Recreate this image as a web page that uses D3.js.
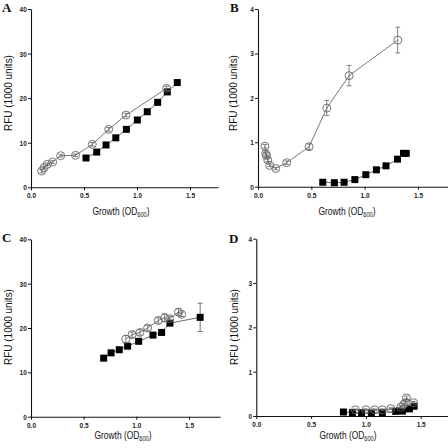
<!DOCTYPE html>
<html><head><meta charset="utf-8">
<script src="https://cdn.jsdelivr.net/npm/d3@7"></script>
<style>
html,body{margin:0;padding:0;background:#fff;}
svg text{font-family:Arial,"Liberation Sans",sans-serif;}
</style></head>
<body><svg id="c" width="448" height="448"></svg>
<script>
// ---------- data ----------
const xTicks = [0.0, 0.5, 1.0, 1.5];
const yTicksBig = [0, 10, 20, 30, 40];
const yTicksSmall = [0, 1, 2, 3, 4];

const A_circ_x = [0.10, 0.123, 0.154, 0.204, 0.28, 0.42, 0.578, 0.733, 0.896, 1.28];
const A_circ_y = [3.65, 4.4, 5.15, 5.67, 7.09, 7.17, 9.64, 13.0, 16.2, 22.2];
const A_circ_e = [0.4, 0.3, 0.3, 0.3, 0.3, 0.3, 0.4, 0.4, 0.4, 0.5];
const A_sq_x = [0.519, 0.62, 0.708, 0.80, 0.90, 1.003, 1.097, 1.195, 1.286, 1.38];
const A_sq_y = [6.57, 7.9, 9.5, 11.1, 13.0, 15.1, 16.95, 19.06, 21.4, 23.5];

const B_circ_x = [0.065, 0.072, 0.08, 0.092, 0.11, 0.166, 0.27, 0.479, 0.645, 0.854, 1.31];
const B_circ_y = [0.91, 0.74, 0.70, 0.60, 0.48, 0.41, 0.54, 0.90, 1.77, 2.50, 3.30];
const B_circ_e = [0.04, 0.04, 0.04, 0.04, 0.03, 0.03, 0.04, 0.06, 0.17, 0.23, 0.29];
const B_sq_x = [0.607, 0.716, 0.807, 0.908, 1.011, 1.11, 1.20, 1.308, 1.364, 1.39];
const B_sq_y = [0.10, 0.09, 0.10, 0.16, 0.27, 0.38, 0.47, 0.62, 0.75, 0.75];

const C_circ_x = [0.90, 0.96, 1.034, 1.107, 1.208, 1.268, 1.316, 1.40, 1.43];
const C_circ_y = [17.5, 18.5, 19.0, 20.0, 21.7, 22.3, 22.1, 23.6, 23.1];
const C_circ_e = [0.8, 0.6, 0.6, 0.6, 0.6, 0.9, 0.5, 0.7, 0.5];
const C_sq_x = [0.69, 0.76, 0.838, 0.917, 1.022, 1.158, 1.24, 1.319, 1.606];
const C_sq_y = [13.2, 14.4, 15.1, 15.9, 17.0, 18.4, 19.0, 21.1, 22.4];
const C_sq_e = [0, 0, 0, 0, 0, 0, 0.5, 0.5, 3.2];

const D_circ_x = [0.904, 1.0, 1.08, 1.15, 1.227, 1.318, 1.345, 1.36, 1.37, 1.434];
const D_circ_y = [0.14, 0.14, 0.14, 0.14, 0.165, 0.20, 0.26, 0.30, 0.41, 0.30];
const D_circ_e = [0.02, 0.02, 0.02, 0.02, 0.02, 0.03, 0.03, 0.04, 0.04, 0.03];
const D_sq_x = [0.795, 0.877, 0.96, 1.05, 1.15, 1.272, 1.333, 1.397, 1.44];
const D_sq_y = [0.09, 0.075, 0.075, 0.068, 0.075, 0.105, 0.11, 0.16, 0.22];

// ---------- layout ----------
const panels = [
  {label:"A", lx:2, ly:12, x0:31, x15:190, xEnd:218, yb:187.3, yt:9, yMax:40, yTicks:yTicksBig,
   ytx:9, yty:93, xtx:121, xty:215,
   circ:{x:A_circ_x,y:A_circ_y,e:A_circ_e}, sq:{x:A_sq_x,y:A_sq_y,e:null}},
  {label:"B", lx:230, ly:12, x0:258, x15:418, xEnd:448, yb:186.7, yt:9, yMax:4, yTicks:yTicksSmall,
   ytx:234, yty:93, xtx:347, xty:215,
   circ:{x:B_circ_x,y:B_circ_y,e:B_circ_e}, sq:{x:B_sq_x,y:B_sq_y,e:null}},
  {label:"C", lx:2, ly:242, x0:31, x15:189, xEnd:220, yb:416.7, yt:239.3, yMax:40, yTicks:yTicksBig,
   ytx:9, yty:327, xtx:123, xty:438.5,
   circ:{x:C_circ_x,y:C_circ_y,e:C_circ_e}, sq:{x:C_sq_x,y:C_sq_y,e:C_sq_e}},
  {label:"D", lx:229, ly:243, x0:256.3, x15:420.7, xEnd:448, yb:416, yt:238.7, yMax:4, yTicks:yTicksSmall,
   ytx:235, yty:327, xtx:348, xty:438.5,
   circ:{x:D_circ_x,y:D_circ_y,e:D_circ_e}, sq:{x:D_sq_x,y:D_sq_y,e:null}}
];

const svg = d3.select("#c");

panels.forEach(p => {
  const base = d3.scaleLinear().domain([0,1.5]).range([p.x0,p.x15]);
  const x = d3.scaleLinear().domain([0, base.invert(p.xEnd)]).range([p.x0,p.xEnd]);
  const y = d3.scaleLinear().domain([0,p.yMax]).range([p.yb,p.yt]);
  const g = svg.append("g");

  // axes
  const xa = g.append("g").attr("transform",`translate(0,${p.yb})`)
    .call(d3.axisBottom(x).tickValues(xTicks).tickFormat(d3.format(".1f")).tickSize(3).tickSizeOuter(0).tickPadding(2.5));
  const ya = g.append("g").attr("transform",`translate(${p.x0},0)`)
    .call(d3.axisLeft(y).tickValues(p.yTicks).tickFormat(d3.format("d")).tickSize(3).tickSizeOuter(0).tickPadding(2));
  [xa,ya].forEach(a=>{
    a.selectAll("path.domain").attr("stroke","#111").attr("stroke-width",1.1);
    a.selectAll(".tick line").attr("stroke","#111").attr("stroke-width",1);
    a.selectAll("text").attr("font-size",8).attr("font-weight","bold").attr("fill","#222")
      .attr("transform","scale(0.82,1)");
  });

  // panel letter
  g.append("text").attr("x",p.lx).attr("y",p.ly).text(p.label)
    .attr("font-weight","bold").attr("font-size",13).attr("fill","#111")
    .style("font-family","'Liberation Serif','Times New Roman',serif");

  // axis titles
  g.append("text").attr("transform",`translate(${p.ytx},${p.yty}) rotate(-90) scale(0.95,1)`)
    .attr("text-anchor","middle").attr("dominant-baseline","middle")
    .attr("font-size",10.5).attr("fill","#111").text("RFU (1000 units)");
  const xt = g.append("text").attr("transform",`translate(${p.xtx},${p.xty}) scale(0.8,1)`)
    .attr("text-anchor","middle").attr("font-size",10.5).attr("fill","#111");
  xt.append("tspan").text("Growth (OD");
  xt.append("tspan").attr("font-size",7).attr("dy",2).text("600");
  xt.append("tspan").attr("dy",-2).text(")");

  const line = d3.line().x(d=>x(d[0])).y(d=>y(d[1]));

  // square series
  const sq = p.sq.x.map((v,i)=>[v,p.sq.y[i],p.sq.e?p.sq.e[i]:0]);
  g.append("path").datum(sq).attr("d",line).attr("fill","none").attr("stroke","#444").attr("stroke-width",0.8);
  sq.filter(d=>d[2]>0).forEach(d=>{
    const cx=x(d[0]), y1=y(d[1]+d[2]), y2=y(d[1]-d[2]);
    g.append("path").attr("d",`M${cx},${y1}V${y2}M${cx-2.5},${y1}H${cx+2.5}M${cx-2.5},${y2}H${cx+2.5}`)
      .attr("stroke","#555").attr("stroke-width",0.8).attr("fill","none");
  });
  g.selectAll(null).data(sq).enter().append("rect")
    .attr("x",d=>x(d[0])-3.5).attr("y",d=>y(d[1])-3.5).attr("width",7).attr("height",7).attr("fill","#000");

  // circle series
  const ci = p.circ.x.map((v,i)=>[v,p.circ.y[i],p.circ.e[i]]);
  g.append("path").datum(ci).attr("d",line).attr("fill","none").attr("stroke","#555").attr("stroke-width",0.8);
  ci.forEach(d=>{
    const cx=x(d[0]), y1=y(d[1]+d[2]), y2=y(d[1]-d[2]);
    g.append("path").attr("d",`M${cx},${y1}V${y2}M${cx-2.5},${y1}H${cx+2.5}M${cx-2.5},${y2}H${cx+2.5}`)
      .attr("stroke","#666").attr("stroke-width",0.8).attr("fill","none");
  });
  g.selectAll(null).data(ci).enter().append("circle")
    .attr("cx",d=>x(d[0])).attr("cy",d=>y(d[1])).attr("r",4)
    .attr("fill","none").attr("stroke","#666").attr("stroke-width",0.9);
});
</script></body></html>
